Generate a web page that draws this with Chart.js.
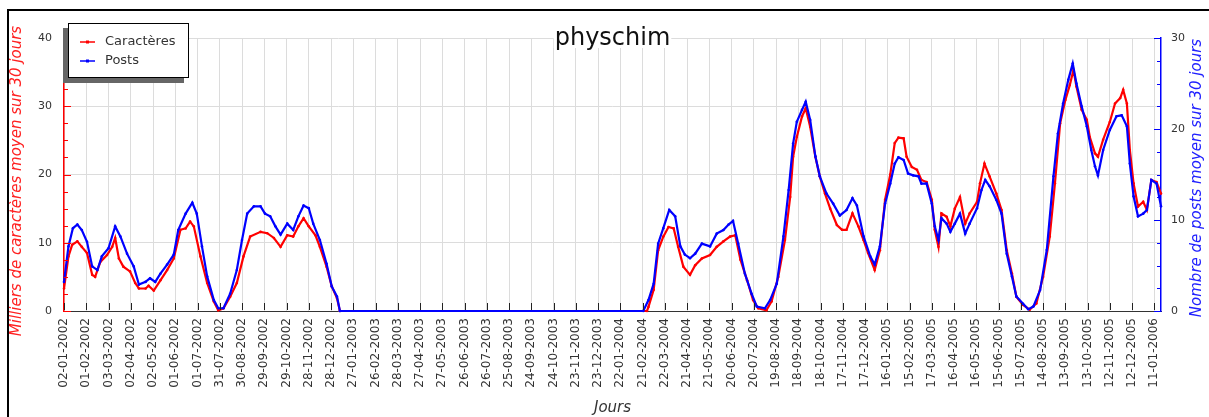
<!DOCTYPE html>
<html>
<head>
<meta charset="utf-8">
<script src="https://cdn.jsdelivr.net/npm/chart.js@4.4.1/dist/chart.umd.min.js"></script>
<style>
  html, body { margin: 0; padding: 0; background: #fff; overflow: hidden; }
  canvas { display: block; }
</style>
</head>
<body>
<canvas id="chart" width="1209" height="417"></canvas>
<script>
// dates des graduations (une tous les 30 jours)
const tickDates = [
  '02-01-2002', '01-02-2002', '03-03-2002', '02-04-2002', '02-05-2002', '01-06-2002', '01-07-2002',
  '31-07-2002', '30-08-2002', '29-09-2002', '29-10-2002', '28-11-2002', '28-12-2002',
  '27-01-2003', '26-02-2003', '28-03-2003', '27-04-2003', '27-05-2003', '26-06-2003', '26-07-2003',
  '25-08-2003', '24-09-2003', '24-10-2003', '23-11-2003', '23-12-2003',
  '22-01-2004', '21-02-2004', '22-03-2004', '21-04-2004', '21-05-2004', '20-06-2004', '20-07-2004',
  '19-08-2004', '18-09-2004', '18-10-2004', '17-11-2004', '17-12-2004',
  '16-01-2005', '15-02-2005', '17-03-2005', '16-04-2005', '16-05-2005', '15-06-2005', '15-07-2005',
  '14-08-2005', '13-09-2005', '13-10-2005', '12-11-2005', '12-12-2005', '11-01-2006'
];
const tickStep = 30; // jours entre deux graduations
const lastDay = 1479;

// Caractères (milliers, moyenne sur 30 jours) - jour depuis 02-01-2002
const charDays = [0,6,11,18,24,31,38,42,49,58,65,69,74,80,89,96,101,110,114,121,130,139,148,157,164,170,175,184,193,202,
  208,215,224,233,242,251,265,274,283,292,301,309,316,323,330,339,345,354,361,368,372,786,788,795,801,808,815,822,828,835,
  844,851,860,871,880,889,898,905,912,921,929,936,947,954,963,972,979,983,988,995,1000,1006,1013,1019,1026,1033,1042,1049,1055,1063,
  1071,1078,1084,1093,1100,1107,1114,1120,1125,1132,1136,1143,1150,1156,1163,1170,1174,1179,1183,1190,1195,1201,1208,1215,1221,1231,1235,1241,1248,1257,
  1264,1271,1278,1284,1293,1302,1311,1320,1329,1336,1343,1350,1356,1361,1365,1372,1379,1383,1390,1394,1401,1410,1417,1424,1428,1433,1437,1442,1448,1455,
  1460,1466,1473,1479];
const charValues = [3.3,8.0,9.7,10.2,9.4,8.5,5.3,5.0,7.2,8.2,9.4,10.7,7.7,6.5,5.8,4.1,3.3,3.3,3.7,3.0,4.5,6.0,7.7,11.9,12.1,13.1,12.4,8.0,4.1,1.4,
  0.1,0.4,2.1,4.1,8.0,10.9,11.6,11.4,10.7,9.4,11.1,10.9,12.4,13.6,12.4,11.1,9.4,6.5,3.6,1.9,0,0,0.6,3.1,8.9,10.9,12.3,12.1,9.4,6.5,
  5.3,6.7,7.7,8.2,9.4,10.2,10.9,11.1,7.5,4.5,1.6,0.4,0.1,1.4,5.0,10.4,16.7,22.6,25.5,28.5,29.7,27.0,22.6,19.7,17.2,15.0,12.6,11.9,11.9,14.3,
  12.4,10.4,8.5,6.0,8.9,16.3,20.0,24.6,25.4,25.3,22.6,21.1,20.7,19.2,18.9,16.3,11.9,9.4,14.3,13.8,12.4,15.0,16.7,12.8,14.3,16.0,18.7,21.6,19.7,17.2,
  14.8,8.9,5.5,2.1,0.9,0.2,1.1,5.0,10.9,18.7,27.5,30.9,33.1,35.3,32.9,29.5,28.0,25.5,23.1,22.6,25.1,27.7,30.4,31.2,32.4,30.4,23.6,18.7,15.3,16.0,
  14.8,19.2,18.9,17.2];

// Posts (moyenne sur 30 jours)
const postDays = [0,6,12,18,24,31,38,45,51,60,69,76,85,94,101,110,116,123,130,139,148,154,164,173,179,186,193,202,208,215,
  224,233,240,247,256,265,271,278,285,292,301,309,316,323,330,336,345,354,361,368,372,781,788,795,801,808,816,824,831,837,
  844,851,860,871,880,889,896,902,909,918,927,934,945,952,961,970,977,983,988,995,1000,1006,1013,1019,1028,1037,1046,1055,1063,1069,
  1078,1087,1093,1100,1107,1114,1120,1125,1132,1138,1145,1152,1156,1163,1170,1174,1179,1183,1190,1195,1201,1208,1215,1221,1231,1237,1242,1248,1257,1264,
  1271,1278,1284,1293,1300,1307,1316,1325,1334,1340,1347,1354,1360,1365,1372,1379,1385,1390,1394,1401,1410,1419,1426,1433,1437,1442,1448,1455,1460,1466,
  1473,1479];
const postValues = [3.2,7.1,9.1,9.5,8.9,7.6,4.9,4.5,6.0,6.9,9.3,8.2,6.3,4.9,2.9,3.2,3.6,3.2,4.1,5.1,6.2,8.9,10.7,11.9,10.7,7.1,3.8,1.2,0.3,0.3,
  1.9,4.5,7.8,10.7,11.5,11.5,10.7,10.4,9.3,8.4,9.6,8.9,10.4,11.6,11.3,9.6,7.8,5.2,2.7,1.6,0,0,1.2,3.0,7.4,9.1,11.1,10.4,7.1,6.2,
  5.8,6.3,7.4,7.1,8.5,8.9,9.5,9.9,7.4,4.1,1.9,0.5,0.3,1.2,3.0,8.2,13.3,18.4,20.8,22.1,23.0,21.0,17.0,14.8,12.9,11.8,10.5,11.1,12.4,11.6,
  8.2,6.0,5.1,7.1,11.8,14.0,16.2,16.9,16.6,15.1,14.9,14.8,14.0,14.0,11.8,9.3,7.8,10.2,9.6,8.7,9.6,10.7,8.5,9.6,11.3,13.3,14.4,13.7,12.2,10.7,
  6.3,3.8,1.6,0.8,0.2,0.5,2.3,6.7,14.8,19.5,22.8,25.4,27.2,25.0,22.5,20.3,17.7,15.9,14.9,17.7,19.9,21.4,21.5,20.3,16.2,12.6,10.4,10.7,11.1,14.4,
  14.0,11.5];

const FONT = '"DejaVu Sans", sans-serif';
const GRID = '#dcdcdc';

// ---- décor : graduations internes, titres, légende, cadre ----
const decorPlugin = {
  id: 'decor',
  afterDraw(chart) {
    const ctx = chart.ctx;
    const area = chart.chartArea;
    const x = chart.scales.x, y = chart.scales.y, y2 = chart.scales.y2;
    ctx.save();

    // petites graduations vers l'intérieur
    ctx.lineWidth = 1;
    ctx.strokeStyle = '#ff0000';
    for (let v = 0; v <= 40; v += 2.5) {
      const py = Math.round(y.getPixelForValue(v)) + 0.5;
      const len = v % 10 === 0 ? 7 : 4;
      ctx.beginPath(); ctx.moveTo(area.left, py); ctx.lineTo(area.left + len, py); ctx.stroke();
    }
    ctx.strokeStyle = '#0000ff';
    for (let v = 0; v <= 30; v += 2.5) {
      const py = Math.round(y2.getPixelForValue(v)) + 0.5;
      const len = v % 10 === 0 ? 7 : 4;
      ctx.beginPath(); ctx.moveTo(area.right, py); ctx.lineTo(area.right - len, py); ctx.stroke();
    }
    ctx.strokeStyle = '#222';
    tickDates.forEach((d, i) => {
      const px = Math.round(x.getPixelForValue(i * tickStep)) + 0.5;
      ctx.beginPath(); ctx.moveTo(px, area.bottom - 1); ctx.lineTo(px, area.bottom - 8); ctx.stroke();
    });

    // titre du graphique (fond blanc)
    ctx.font = '24px ' + FONT;
    const title = 'physchim';
    const tw = ctx.measureText(title).width;
    const cx = (area.left + area.right) / 2;
    ctx.fillStyle = '#fff';
    ctx.fillRect(cx - tw / 2 - 1, 24, tw + 2, 24);
    ctx.fillStyle = '#111';
    ctx.textAlign = 'center';
    ctx.textBaseline = 'alphabetic';
    ctx.fillText(title, cx, 45);

    // titres des axes
    ctx.font = 'italic 15px ' + FONT;
    ctx.fillStyle = '#333';
    ctx.textBaseline = 'middle';
    ctx.fillText('Jours', cx, 408);

    ctx.save();
    ctx.translate(17, 181);
    ctx.rotate(-Math.PI / 2);
    ctx.fillStyle = '#ff2020';
    ctx.fillText('Milliers de caractères moyen sur 30 jours', 0, 0);
    ctx.restore();

    ctx.save();
    ctx.translate(1197, 178);
    ctx.rotate(-Math.PI / 2);
    ctx.fillStyle = '#2020ff';
    ctx.fillText('Nombre de posts moyen sur 30 jours', 0, 0);
    ctx.restore();

    // légende avec ombre
    const lx = 68, ly = 23, lw = 121, lh = 55;
    ctx.fillStyle = '#666';
    ctx.fillRect(lx - 5, ly + 5, lw, lh);
    ctx.fillStyle = '#fff';
    ctx.fillRect(lx, ly, lw, lh);
    ctx.strokeStyle = '#000';
    ctx.lineWidth = 1;
    ctx.strokeRect(lx + 0.5, ly + 0.5, lw - 1, lh - 1);
    ctx.font = '13px ' + FONT;
    ctx.textAlign = 'left';
    chart.data.datasets.forEach((ds, i) => {
      const row = ly + 19 + i * 19;
      ctx.strokeStyle = ds.borderColor;
      ctx.lineWidth = 1.5;
      ctx.beginPath(); ctx.moveTo(80, row); ctx.lineTo(95, row); ctx.stroke();
      ctx.fillStyle = ds.borderColor;
      ctx.fillRect(86, row - 1.5, 3, 3);
      ctx.fillStyle = '#333';
      ctx.fillText(ds.label, 105, row);
    });

    // cadre extérieur
    ctx.fillStyle = '#000';
    ctx.fillRect(7, 9, chart.width, 2);
    ctx.fillRect(7, 9, 2, chart.height);
    ctx.restore();
  }
};

const toPoints = (days, values) => days.map((d, i) => ({ x: d, y: values[i] }));

new Chart(document.getElementById('chart'), {
  type: 'line',
  data: {
    datasets: [
      {
        label: 'Caractères',
        data: toPoints(charDays, charValues),
        yAxisID: 'y',
        borderColor: '#ff0000',
        backgroundColor: '#ff0000',
        borderWidth: 2.2,
        pointRadius: 1.3,
        pointBorderWidth: 0,
        clip: false,
        order: 1
      },
      {
        label: 'Posts',
        data: toPoints(postDays, postValues),
        yAxisID: 'y2',
        borderColor: '#0000ff',
        backgroundColor: '#0000ff',
        borderWidth: 2.2,
        pointRadius: 1.3,
        pointBorderWidth: 0,
        clip: false,
        order: 0
      }
    ]
  },
  options: {
    responsive: false,
    animation: false,
    layout: { padding: { top: 38, left: 0, right: 0, bottom: 0 } },
    plugins: {
      legend: { display: false },
      title: { display: false },
      tooltip: { enabled: false }
    },
    scales: {
      x: {
        type: 'linear',
        min: 0,
        max: lastDay,
        afterBuildTicks: (s) => { s.ticks = tickDates.map((d, i) => ({ value: i * tickStep })); },
        afterFit: (s) => { s.height = 106; },
        grid: { color: GRID, drawTicks: false },
        border: { color: '#333', width: 1 },
        ticks: {
          autoSkip: false,
          minRotation: 90,
          maxRotation: 90,
          padding: 7,
          color: '#333',
          font: { family: FONT, size: 12 },
          callback: (v, i) => tickDates[i]
        }
      },
      y: {
        position: 'left',
        min: 0,
        max: 40,
        afterFit: (s) => { s.width = 64; },
        grid: { color: GRID, drawTicks: false },
        border: { color: '#ff0000', width: 1.5 },
        ticks: { stepSize: 10, padding: 12, color: '#333', font: { family: FONT, size: 11 } }
      },
      y2: {
        position: 'right',
        min: 0,
        max: 30,
        afterFit: (s) => { s.width = 48; },
        grid: { display: false, drawTicks: false },
        border: { color: '#0000ff', width: 1.5 },
        ticks: { stepSize: 10, padding: 10, color: '#333', font: { family: FONT, size: 11 } }
      }
    }
  },
  plugins: [decorPlugin]
});
</script>
</body>
</html>
